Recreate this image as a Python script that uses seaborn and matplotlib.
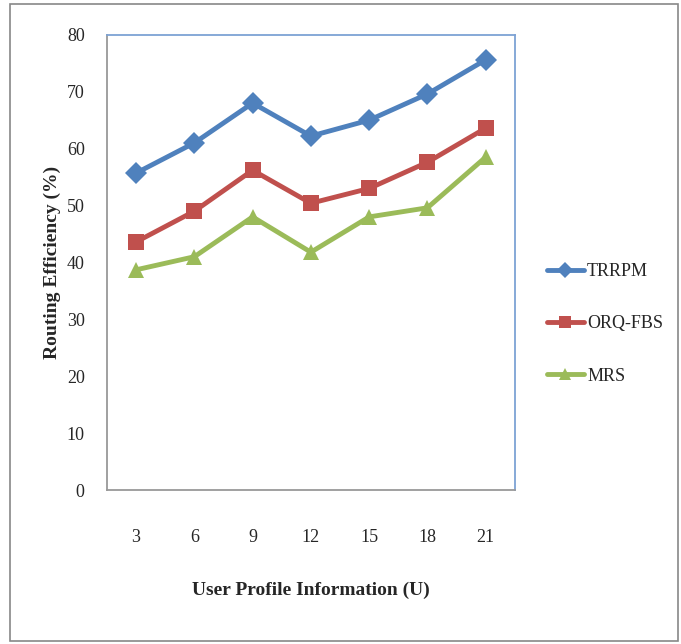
import numpy as np
import pandas as pd
import matplotlib
matplotlib.use("Agg")
import matplotlib.pyplot as plt
import seaborn as sns
from matplotlib.patches import Rectangle

users = [3, 6, 9, 12, 15, 18, 21]
trrpm = [55.7, 61.0, 68.0, 62.2, 65.0, 69.6, 75.6]
orq_fbs = [43.6, 49.0, 56.2, 50.4, 53.0, 57.6, 63.6]
mrs = [38.7, 41.0, 48.0, 41.8, 48.0, 49.6, 58.5]
methods = ["TRRPM", "ORQ-FBS", "MRS"]
colors = ["#4F81BD", "#C0504D", "#9BBB59"]
markers = ["D", "s", "^"]

df = pd.DataFrame({
    "User": [str(u) for u in users] * 3,
    "Efficiency": trrpm + orq_fbs + mrs,
    "Method": [m for m in methods for _ in users],
})

sns.set_style("white")
plt.rcParams["font.family"] = ["Liberation Serif", "DejaVu Serif"]

fig = plt.figure(figsize=(6.81, 6.44), dpi=100)
fig.patches.append(Rectangle((0.015, 0.004), 0.98, 0.99, transform=fig.transFigure,
                             fill=False, edgecolor="#888888", linewidth=1.2))
ax = fig.add_axes([0.157, 0.239, 0.599, 0.707])

sns.lineplot(data=df, x="User", y="Efficiency", hue="Method", style="Method",
             palette=colors, markers=markers, dashes=False, linewidth=3.5,
             markersize=11, markeredgewidth=0, sort=False, ax=ax)

ax.set_xlim(-0.5, 6.5)
ax.set_ylim(0, 80)
ax.set_yticks(range(0, 81, 10))
ax.tick_params(axis="y", length=0, pad=16, labelsize=13)
ax.tick_params(axis="x", length=0, pad=28, labelsize=13)
ax.set_xlabel("User Profile Information (U)", fontsize=14, fontweight="bold", labelpad=26)
ax.set_ylabel("Routing Efficiency (%)", fontsize=14, fontweight="bold", labelpad=4)

for side in ["top", "right"]:
    ax.spines[side].set_color("#7DA2D4")
for side in ["left", "bottom"]:
    ax.spines[side].set_color("#999999")
for s in ax.spines.values():
    s.set_linewidth(1.3)

handles, labels = ax.get_legend_handles_labels()
ax.legend(handles, labels, loc="center left", bbox_to_anchor=(1.04, 0.365),
          frameon=False, fontsize=13, labelspacing=1.95, handlelength=2.0,
          handletextpad=0.2, markerscale=0.75)

fig.savefig("out.png", dpi=100)
